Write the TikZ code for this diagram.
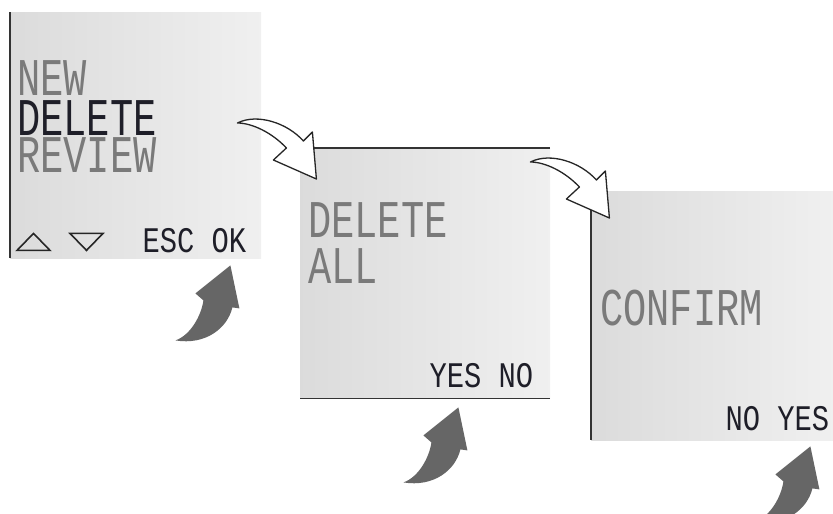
\documentclass[tikz,border=0pt]{standalone}
\usepackage{fontspec}
\usepackage{tikz}
\usetikzlibrary{positioning,calc}

\newfontfamily\lcdbigfont[FakeStretch=0.73]{Liberation Mono}
\newfontfamily\lcdsmallfont[FakeStretch=0.8]{Liberation Mono}
\definecolor{lcdgrey}{HTML}{7A7A7A}
\definecolor{lcddark}{HTML}{1E1E28}
\definecolor{arrowgrey}{HTML}{666666}

\tikzset{
  pics/hollowarrow/.style={code={
    \draw[hollow] (0,0) .. controls (20,-10) and (50,0) .. (66,18) -- (75,9) -- (79,56)
      -- (36,37) -- (49,25) .. controls (35,10) and (15,0) .. cycle;
  }},
  pics/pressarrow/.style={code={
    \fill[arrowgrey] (0,0) .. controls (15,-5) and (26,-25) .. (28,-40) -- (20,-47) -- (55,-75)
      -- (64,-32) -- (57,-33) .. controls (52,-12) and (30,5) .. cycle;
  }},
}

\begin{document}
\begin{tikzpicture}[
  x=1pt,y=-1pt,
  screen/.style={inner sep=0,anchor=north west,left color=black!14,right color=black!6},
  edge/.style={draw=black!80,line width=1.3pt},
  bigtxt/.style={font=\lcdbigfont\fontsize{53}{53}\selectfont,inner sep=0,
    text height=35pt,text depth=0pt,anchor=base west},
  smalltxt/.style={font=\lcdsmallfont\fontsize{36}{36}\selectfont,inner sep=0,
    text height=24pt,text depth=0pt,anchor=base east,text=lcddark},
  hollow/.style={draw=black!85,fill=white,line width=1.3pt,line join=round},
  key/.style={draw=black!85,line width=1.6pt,line join=miter},
]
  \useasboundingbox[fill=white] (0,0) rectangle (833,514);

  % three screens of the display
  \node[screen,minimum width=251,minimum height=246] (scr1) at (10,12) {};
  \node[screen,minimum width=250,minimum height=250] (scr2) at (300,148) {};
  \node[screen,minimum width=242,minimum height=249] (scr3) at (591,191) {};
  \draw[edge] (scr1.north west) -- (scr1.south west);
  \draw[edge] (scr2.north west) -- (scr2.north east);
  \draw[edge] (scr2.south west) -- (scr2.south east);
  \draw[edge] (scr3.north west) -- (scr3.south west);

  % menu
  \node[bigtxt,text=lcdgrey] (new) at ($(scr1.north west)+(7,83)$) {NEW};
  \node[bigtxt,text=lcddark] (del) at ($(scr1.north west)+(7,123)$) {DELETE};
  \node[bigtxt,text=lcdgrey] (rev) at ($(scr1.north west)+(7,160)$) {REVIEW};
  \draw[key] ($(scr1.south west)+(7,-8)$) -- ++(33,0) -- ++(-16.5,-17) -- cycle;
  \draw[key] ($(scr1.south west)+(60,-25)$) -- ++(33,0) -- ++(-16.5,17) -- cycle;
  \node[smalltxt] (escok) at ($(scr1.south east)+(-15,-6)$) {ESC OK};

  % delete all
  \node[bigtxt,text=lcdgrey] (delall) at ($(scr2.north west)+(8,89)$) {DELETE};
  \node[bigtxt,text=lcdgrey] (all) at ($(scr2.north west)+(8,135)$) {ALL};
  \node[smalltxt] (yesno) at ($(scr2.south east)+(-17,-11)$) {YES NO};

  % confirm
  \node[bigtxt,text=lcdgrey] (conf) at ($(scr3.north west)+(9,134)$) {CONFIRM};
  \node[smalltxt] (noyes) at ($(scr3.south east)+(-4,-10)$) {NO YES};

  % transitions
  \pic at ($(scr1.north east)+(-24,111)$) {hollowarrow};
  \pic at ($(scr2.north east)+(-20,14)$) {hollowarrow};

  % key presses
  \pic at ($(scr1.south east)+(-86,82)$) {pressarrow};
  \pic at ($(scr2.south east)+(-147,84)$) {pressarrow};
  \pic at ($(scr3.south east)+(-78,81)$) {pressarrow};
\end{tikzpicture}
\end{document}
